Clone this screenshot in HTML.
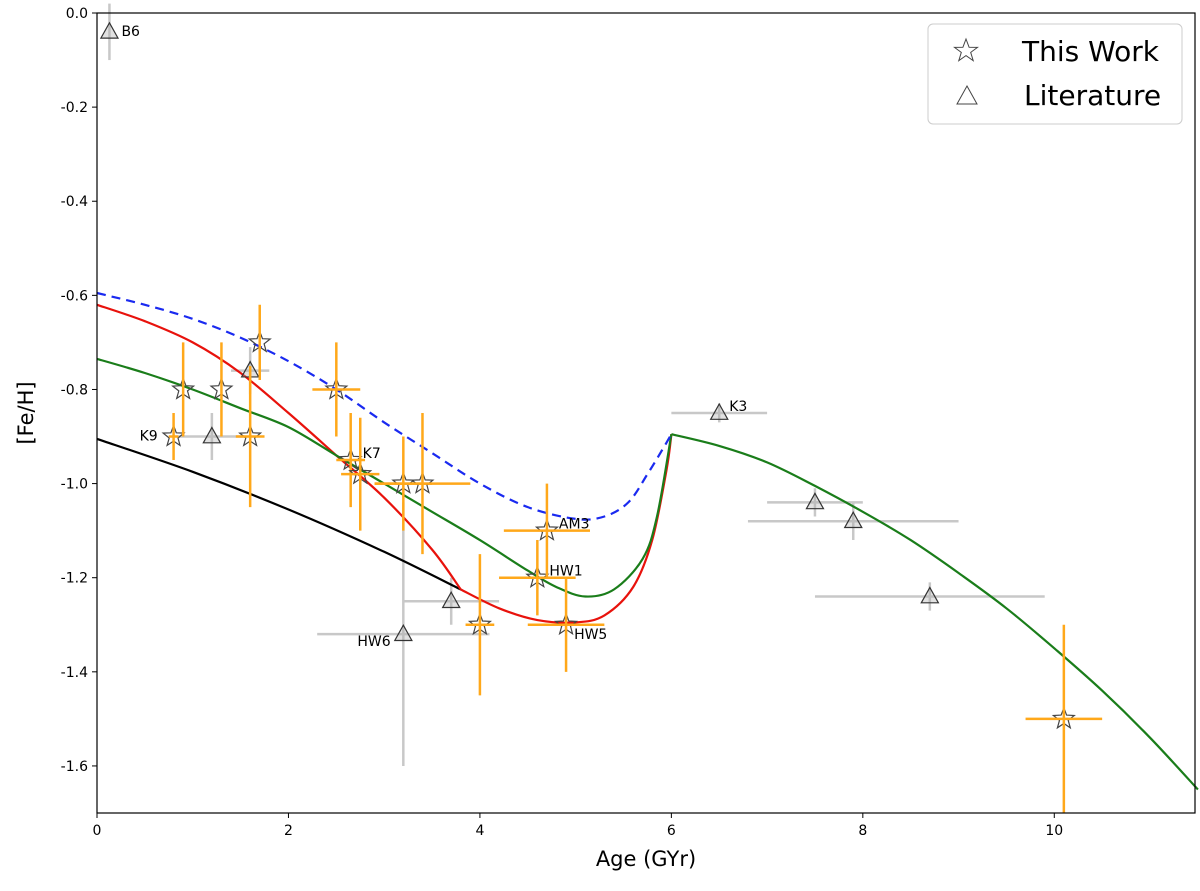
<!DOCTYPE html>
<html><head><meta charset="utf-8"><style>
body{margin:0;background:#fff;font-family:"Liberation Sans","DejaVu Sans",sans-serif}
svg text{font-family:"DejaVu Sans","Liberation Sans",sans-serif}
</style></head><body>
<svg id="c" width="1200" height="886"></svg>
<script>
const xTicks=[0,2,4,6,8,10];
const yTicks=[0.0,-0.2,-0.4,-0.6,-0.8,-1.0,-1.2,-1.4,-1.6];
const blackX=[0,1,2,3,3.8];
const blackY=[-0.905,-0.975,-1.055,-1.145,-1.225];
const redX=[0,0.5,1,1.5,2,2.5,3,3.5,3.8,4.2,4.6,5,5.3,5.6,5.8,5.95,6];
const redY=[-0.62,-0.655,-0.70,-0.765,-0.85,-0.94,-1.03,-1.14,-1.225,-1.265,-1.29,-1.295,-1.28,-1.22,-1.12,-0.97,-0.895];
const greenX=[0,0.5,1,1.5,2,2.5,3,3.5,4,4.5,4.8,5.1,5.4,5.7,5.85,6,6.5,7,7.5,8,8.5,9,9.5,10,10.5,11,11.5];
const greenY=[-0.735,-0.765,-0.80,-0.84,-0.88,-0.94,-1.00,-1.06,-1.12,-1.185,-1.22,-1.24,-1.225,-1.16,-1.07,-0.895,-0.92,-0.955,-1.005,-1.06,-1.12,-1.19,-1.265,-1.35,-1.44,-1.54,-1.65];
const blueX=[0,0.5,1,1.5,2,2.5,3,3.5,4,4.5,5,5.3,5.55,5.75,5.9,6];
const blueY=[-0.595,-0.62,-0.65,-0.69,-0.74,-0.80,-0.87,-0.935,-1.00,-1.05,-1.075,-1.07,-1.04,-0.98,-0.93,-0.895];
const starX=[0.8,0.9,1.3,1.6,1.7,2.5,2.65,2.75,3.2,3.4,4.0,4.6,4.7,4.9,10.1];
const starY=[-0.9,-0.8,-0.8,-0.9,-0.7,-0.8,-0.95,-0.98,-1.0,-1.0,-1.3,-1.2,-1.1,-1.3,-1.5];
const starXe=[0.05,0,0,0.15,0,0.25,0.15,0.2,0.3,0.5,0.15,0.4,0.45,0.4,0.4];
const starYe=[0.05,0.1,0.1,0.15,0.08,0.1,0.1,0.12,0.1,0.15,0.15,0.08,0.1,0.1,0.2];
const triX=[0.13,1.2,1.6,3.2,3.7,6.5,7.5,7.9,8.7];
const triY=[-0.04,-0.9,-0.76,-1.32,-1.25,-0.85,-1.04,-1.08,-1.24];
const triXe=[0,0.35,0.2,0.9,0.5,0.5,0.5,1.1,1.2];
const triYe=[0.06,0.05,0.05,0.28,0.05,0.02,0.03,0.04,0.03];
const labels=[["B6",0.13,-0.04,12,4],["K9",0.8,-0.9,-34,4],["K7",2.65,-0.95,12,-2],["AM3",4.7,-1.1,12,-2],["HW1",4.6,-1.2,12,-2],["HW5",4.9,-1.3,8,14],["HW6",3.2,-1.32,-46,12],["K3",6.5,-0.85,10,-2]];
const X0=97,X1=1195,Y0=13,Y1=813;
const xs=v=>X0+v*(X1-X0)/11.47;
const ys=v=>Y0+(-v)*(Y1-Y0)/1.7;
const svg=document.getElementById('c');
const NS='http://www.w3.org/2000/svg';
function mk(t,a){const e=document.createElementNS(NS,t);for(const k in a)e.setAttribute(k,a[k]);svg.appendChild(e);return e;}
function spline(pts){
 let d='M'+pts[0][0].toFixed(1)+','+pts[0][1].toFixed(1);
 for(let i=0;i<pts.length-1;i++){
  const p0=pts[Math.max(0,i-1)],p1=pts[i],p2=pts[i+1],p3=pts[Math.min(pts.length-1,i+2)];
  const c1=[p1[0]+(p2[0]-p0[0])/6,p1[1]+(p2[1]-p0[1])/6];
  const c2=[p2[0]-(p3[0]-p1[0])/6,p2[1]-(p3[1]-p1[1])/6];
  d+='C'+c1[0].toFixed(1)+','+c1[1].toFixed(1)+' '+c2[0].toFixed(1)+','+c2[1].toFixed(1)+' '+p2[0].toFixed(1)+','+p2[1].toFixed(1);
 }
 return d;
}
function line(xa,ya,color,name,dash,breaks){
 const pts=xa.map((x,i)=>[xs(x),ys(ya[i])]);
 const cuts=[0].concat(breaks||[]).concat([pts.length-1]);
 let d='';
 for(let k=0;k<cuts.length-1;k++)d+=spline(pts.slice(cuts[k],cuts[k+1]+1));
 const p=mk('path',{d:d,fill:'none',stroke:color,'stroke-width':2.2});
 if(dash)p.setAttribute('stroke-dasharray',dash);
 
 
}
xTicks.forEach(t=>{const g=mk('g',{});
 
 
 const l=document.createElementNS(NS,'line');l.setAttribute('x1',xs(t));l.setAttribute('x2',xs(t));l.setAttribute('y1',Y1);l.setAttribute('y2',Y1+5);l.setAttribute('stroke','#000');g.appendChild(l);
 const tx=document.createElementNS(NS,'text');tx.setAttribute('x',xs(t));tx.setAttribute('y',Y1+22);tx.setAttribute('text-anchor','middle');tx.setAttribute('font-size','14');tx.textContent=t;g.appendChild(tx);});
yTicks.forEach(t=>{const g=mk('g',{});
 
 
 const l=document.createElementNS(NS,'line');l.setAttribute('x1',X0-5);l.setAttribute('x2',X0);l.setAttribute('y1',ys(t));l.setAttribute('y2',ys(t));l.setAttribute('stroke','#000');g.appendChild(l);
 const tx=document.createElementNS(NS,'text');tx.setAttribute('x',X0-9);tx.setAttribute('y',ys(t)+5);tx.setAttribute('text-anchor','end');tx.setAttribute('font-size','14');tx.textContent=t.toFixed(1);g.appendChild(tx);});
triX.forEach((x,i)=>{
 const e=mk('path',{d:`M${xs(x-triXe[i])},${ys(triY[i])}H${xs(x+triXe[i])}M${xs(x)},${ys(triY[i]+triYe[i])}V${ys(triY[i]-triYe[i])}`,stroke:'#c8c8c8','stroke-width':2.5,fill:'none'});
 
 
});
line(blackX,blackY,'#000','black-model-line');
line(redX,redY,'#e8120c','red-model-line','',[8]);
line(greenX,greenY,'#1a7d1a','green-model-line','',[15]);
line(blueX,blueY,'#1a2af0','blue-dashed-model-line','9,6');
function starPath(cx,cy,r){let d='';for(let k=0;k<10;k++){const a=-Math.PI/2+k*Math.PI/5;const rr=k%2?r*0.42:r;d+=(k?'L':'M')+(cx+rr*Math.cos(a)).toFixed(1)+','+(cy+rr*Math.sin(a)).toFixed(1);}return d+'Z';}
function triPath(cx,cy,r){return `M${cx},${cy-r}L${cx+r*0.95},${cy+r*0.7}L${cx-r*0.95},${cy+r*0.7}Z`;}
triX.forEach((x,i)=>{
 const t=mk('path',{d:triPath(xs(x),ys(triY[i]),9),fill:'rgba(170,170,170,0.35)',stroke:'#333','stroke-width':1.2});
 
 
});
starX.forEach((x,i)=>{
 const s=mk('path',{d:starPath(xs(x),ys(starY[i]),11),fill:'none',stroke:'#444','stroke-width':1.2});
 
 
 const e=mk('path',{d:`M${xs(x-starXe[i])},${ys(starY[i])}H${xs(x+starXe[i])}M${xs(x)},${ys(starY[i]+starYe[i])}V${ys(starY[i]-starYe[i])}`,stroke:'#ffa81a','stroke-width':2.5,fill:'none'});
 
 
});
labels.forEach(l=>{const t=mk('text',{x:xs(l[1])+l[3],y:ys(l[2])+l[4],'font-size':14});t.textContent=l[0];
 
 });
const fr=mk('rect',{x:X0,y:Y0,width:X1-X0,height:Y1-Y0,fill:'none',stroke:'#000','stroke-width':1.2});


</script>
<svg style="position:absolute;left:0;top:0" width="1200" height="886">
<text x="646" y="866" font-size="21" text-anchor="middle">Age (GYr)</text>
<text transform="translate(33,413) rotate(-90)" font-size="21" text-anchor="middle">[Fe/H]</text>
<g>
<rect x="928" y="24" width="254" height="100" rx="5" fill="#fff" stroke="#ccc"/>
<path d="M966,39L969.1,47.3L977.5,47.4L970.7,52.4L973.2,60.6L966,55.6L958.8,60.6L961.3,52.4L954.5,47.4L962.9,47.3Z" fill="none" stroke="#444"/>
<text x="1022" y="61" font-size="28">This Work</text>
<path d="M967,86L977,104L957,104Z" fill="none" stroke="#444"/>
<text x="1024" y="105" font-size="28">Literature</text>
</g>
</svg>
</body></html>
